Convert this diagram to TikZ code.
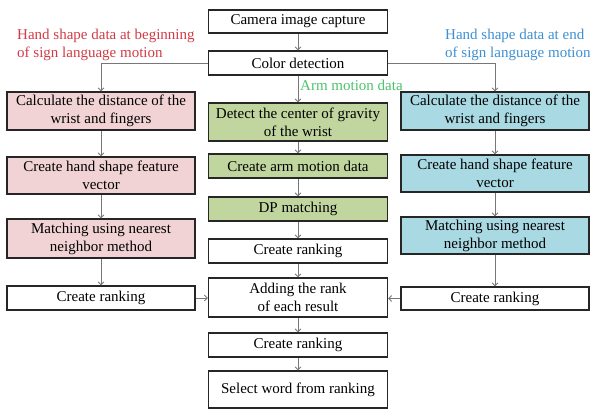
\documentclass[tikz,border=0pt]{standalone}
\usepackage{fontspec}
\setmainfont{Liberation Serif}
\usetikzlibrary{arrows.meta}
\definecolor{pinkf}{HTML}{F2D3D5}
\definecolor{greenf}{HTML}{C1D69F}
\definecolor{bluef}{HTML}{A9D9E3}
\definecolor{redt}{HTML}{D23A45}
\definecolor{bluet}{HTML}{3C8FD2}
\definecolor{greent}{HTML}{4CC26A}
\definecolor{linec}{HTML}{777777}
\begin{document}
\begin{tikzpicture}[x=1pt,y=-1pt,
  every node/.style={font=\fontsize{15}{18}\selectfont},
  box/.style={draw=black!85,line width=1.3pt,align=center,inner sep=0pt,anchor=center},
  cbox/.style={box,minimum width=179pt},
  sbox/.style={box,minimum width=188pt},
  arr/.style={draw=linec,line width=0.8pt,-{Straight Barb[length=3pt,width=6pt]}},
  lab/.style={align=left,anchor=west,inner sep=0pt}]
\useasboundingbox (0,0) rectangle (590,410);
% center column
\node[cbox,minimum height=23pt] (cam) at (298,21.5) {Camera image capture};
\node[cbox,minimum height=24pt] (col) at (298,63) {Color detection};
\node[cbox,minimum height=38pt,fill=greenf] (det) at (298,122) {Detect the center of gravity\\of the wrist};
\node[cbox,minimum height=24pt,fill=greenf] (arm) at (298,166) {Create arm motion data};
\node[cbox,minimum height=24pt,fill=greenf] (dp) at (298,209) {DP matching};
\node[cbox,minimum height=24pt] (cr1) at (298,251) {Create ranking};
\node[cbox,minimum height=39pt] (add) at (298,297.5) {Adding the rank\\of each result};
\node[cbox,minimum height=24pt] (cr2) at (298,345) {Create ranking};
\node[cbox,minimum height=37pt] (sel) at (298,389.5) {Select word from ranking};
% left column
\node[sbox,minimum height=38pt,fill=pinkf] (lcalc) at (101,111) {Calculate the distance of the\\wrist and fingers};
\node[sbox,minimum height=37pt,fill=pinkf] (lfeat) at (101,175.5) {Create hand shape feature\\vector};
\node[sbox,minimum height=39pt,fill=pinkf] (lmat) at (101,238.5) {Matching using nearest\\neighbor method};
\node[sbox,minimum height=24pt] (lrank) at (101,298) {Create ranking};
% right column
\node[sbox,minimum height=38pt,fill=bluef] (rcalc) at (495,111) {Calculate the distance of the\\wrist and fingers};
\node[sbox,minimum height=37pt,fill=bluef] (rfeat) at (495,173.5) {Create hand shape feature\\vector};
\node[sbox,minimum height=37pt,fill=bluef] (rmat) at (495,235.5) {Matching using nearest\\neighbor method};
\node[sbox,minimum height=23pt] (rrank) at (495,298.5) {Create ranking};
% labels
\node[lab,text=redt] (lt) at (17,45) {Hand shape data at beginning\\of sign language motion};
\node[lab,text=bluet] (rt) at (445,45) {Hand shape data at end\\of sign language motion};
\node[lab,text=greent] (gt) at (300,85) {Arm motion data};
% arrows
\draw[arr] (cam) -- (col);
\draw[arr] (col) -- (det);
\draw[arr] (det) -- (arm);
\draw[arr] (arm) -- (dp);
\draw[arr] (dp) -- (cr1);
\draw[arr] (cr1) -- (add);
\draw[arr] (add) -- (cr2);
\draw[arr] (cr2) -- (sel);
\draw[arr] (col.west) -| (lcalc.north);
\draw[arr] (col.east) -| (rcalc.north);
\draw[arr] (lcalc) -- (lfeat);
\draw[arr] (lfeat) -- (lmat);
\draw[arr] (lmat) -- (lrank);
\draw[arr] (rcalc) -- (rfeat);
\draw[arr] (rfeat) -- (rmat);
\draw[arr] (rmat) -- (rrank);
\draw[arr] (lrank.east) -- (lrank.east -| add.west);
\draw[arr] (rrank.west) -- (rrank.west -| add.east);
\end{tikzpicture}
\end{document}
